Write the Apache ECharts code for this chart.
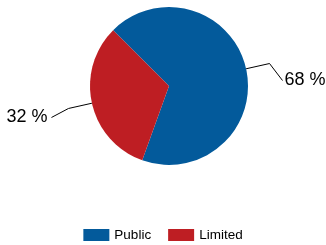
<!DOCTYPE html>
<html><head><meta charset="utf-8">
<script src="https://cdn.jsdelivr.net/npm/echarts@6/dist/echarts.min.js"></script>
<style>html,body{margin:0;padding:0;background:#fff}#c{width:326px;height:245px}</style>
</head><body><div id="c"></div>
<script>
const categories = ['Public', 'Limited'];
const values = [68, 32];
const colors = ['#035a9b', '#be1e23'];

const chart = echarts.init(document.getElementById('c'), null, {renderer: 'canvas'});
chart.setOption({
  animation: false,
  color: colors,
  legend: {
    data: categories,
    left: 'center',
    top: 223,
    itemWidth: 26,
    itemHeight: 12,
    itemGap: 17,
    icon: 'rect',
    textStyle: {fontFamily: 'Liberation Sans, Arial, sans-serif', fontSize: 13.5, color: '#000'}
  },
  series: [{
    type: 'pie',
    center: [169, 86],
    radius: 79,
    startAngle: 135,
    clockwise: true,
    data: categories.map((c, i) => ({name: c, value: values[i]})),
    label: {
      show: true,
      formatter: p => p.value + ' %',
      fontFamily: 'Liberation Sans, Arial, sans-serif',
      fontSize: 18,
      color: '#000',
      overflow: 'none',
      width: 80
    },
    labelLine: {show: true, length: 24, length2: 10, lineStyle: {color: '#000', width: 1}},
    labelLayout: function (params) {
      const pts = params.labelLinePoints;
      if (!pts) return {};
      const p1 = pts[1];
      const right = p1[0] > 169;
      const p2 = right ? [p1[0] + 13, p1[1] + 17] : [p1[0] - 17, p1[1] + 9];
      return {
        x: right ? p2[0] + 2 : p2[0] - 4,
        y: p2[1],
        align: right ? 'left' : 'right',
        verticalAlign: 'middle',
        labelLinePoints: [pts[0], p1, p2]
      };
    },
    emphasis: {disabled: true}
  }]
});
</script></body></html>
